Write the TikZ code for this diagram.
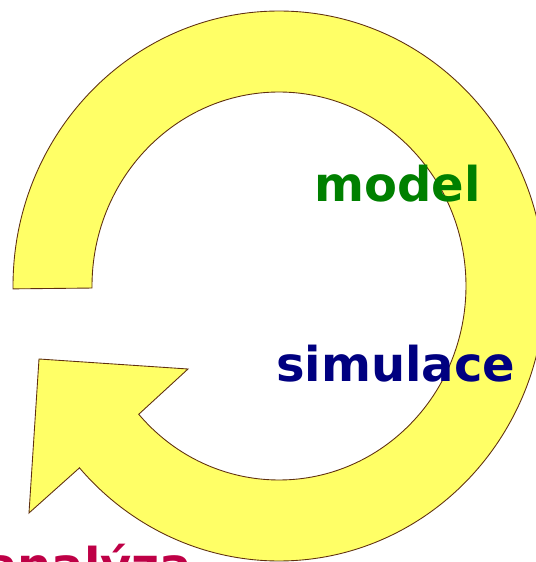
\documentclass[tikz,border=0pt]{standalone}
\usepackage{fontspec}
\setmainfont{DejaVu Sans}
\usepackage{tikz}
\usetikzlibrary{calc}

\definecolor{ringfill}{RGB}{255,255,102}
\definecolor{ringline}{RGB}{96,48,16}
\definecolor{modelgreen}{RGB}{0,128,0}
\definecolor{simnavy}{RGB}{0,0,128}
\definecolor{anacrimson}{RGB}{190,0,70}

\tikzset{
  ring/.style={draw=ringline,line width=0.5pt,fill=ringfill,line join=miter},
  phase/.style={font=\fontsize{27.3}{33}\selectfont\bfseries,inner sep=0pt,anchor=base west}
}

\begin{document}
\begin{tikzpicture}[x=0.02cm,y=0.02cm]
\useasboundingbox (0,0) rectangle (535,562);
\coordinate (c) at (279,276);
\coordinate (barbL) at (29,49);
\coordinate (tip) at (39,203);
\coordinate (barbR) at (188,193);
% ring with arrow head
\draw[ring] (c) ++(180.6:266 and 275)
  arc[start angle=180.6,end angle=-138.6,x radius=266,y radius=275]
  -- (barbL) -- (tip) -- (barbR)
  -- ($(c)+(-138.6:187 and 194)$)
  arc[start angle=-138.6,end angle=180.6,x radius=187,y radius=194]
  -- cycle;
\node[phase,text=modelgreen] (model) at (314,360) {model};
\node[phase,text=simnavy] (simulace) at (276,180.3) {simulace};
\node[phase,text=anacrimson] (analyza) at (-15,-20) {analýza};
\end{tikzpicture}
\end{document}
